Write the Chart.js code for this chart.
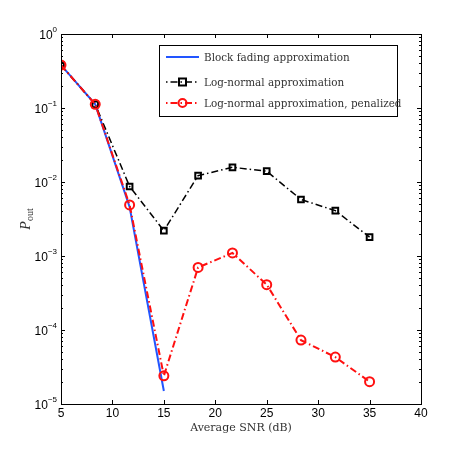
<!DOCTYPE html>
<html>
<head>
<meta charset="utf-8">
<script src="https://cdn.jsdelivr.net/npm/chart.js@4/dist/chart.umd.min.js"></script>
<style>
  html, body { margin: 0; padding: 0; background: #fff; }
  #wrap { width: 465px; height: 453px; }
</style>
</head>
<body>
<div id="wrap"><canvas id="c" width="465" height="453"></canvas></div>
<script>
// data
const snr = [5, 8.33, 11.67, 15, 18.33, 21.67, 25, 28.33, 31.67, 35];
const blockFading = [0.38, 0.112, 0.0046, 1.5e-5];
const logNormal = [0.38, 0.112, 0.0087, 0.0022, 0.0122, 0.0158, 0.014, 0.0058, 0.0041, 0.0018];
const logNormalPen = [0.38, 0.112, 0.0049, 2.4e-5, 7.0e-4, 1.1e-3, 4.1e-4, 7.3e-5, 4.3e-5, 2.0e-5];
const xTicks = [5, 10, 15, 20, 25, 30, 35, 40];
const yExps = [0, -1, -2, -3, -4, -5];
const legendLabels = ['Block fading approximation', 'Log-normal approximation', 'Log-normal approximation, penalized'];

const toPts = (ys) => ys.map((y, i) => ({ x: snr[i], y }));
const dashDot = [7, 3, 1.5, 3];

// frame, ticks, labels and legend like a matlab figure
const axesPlugin = {
  id: 'axesPlugin',
  afterDraw(chart) {
    const { ctx, chartArea: { top, bottom, left, right }, scales: { x, y } } = chart;
    ctx.save();
    ctx.strokeStyle = '#000';
    ctx.lineWidth = 1;
    ctx.setLineDash([]);
    ctx.strokeRect(left + 0.5, top + 0.5, right - left, bottom - top);

    // x ticks, inward on bottom and top
    ctx.beginPath();
    xTicks.forEach(v => {
      const px = Math.round(x.getPixelForValue(v)) + 0.5;
      ctx.moveTo(px, bottom); ctx.lineTo(px, bottom - 4);
      ctx.moveTo(px, top); ctx.lineTo(px, top + 4);
    });
    // y ticks, major and minor
    yExps.forEach(e => {
      const py = Math.round(y.getPixelForValue(Math.pow(10, e))) + 0.5;
      ctx.moveTo(left, py); ctx.lineTo(left + 4, py);
      ctx.moveTo(right, py); ctx.lineTo(right - 4, py);
      if (e < 0) {
        for (let m = 2; m <= 9; m++) {
          const pm = Math.round(y.getPixelForValue(m * Math.pow(10, e))) + 0.5;
          ctx.moveTo(left, pm); ctx.lineTo(left + 2, pm);
          ctx.moveTo(right, pm); ctx.lineTo(right - 2, pm);
        }
      }
    });
    ctx.stroke();

    // tick labels
    ctx.fillStyle = '#000';
    ctx.font = '12px "Liberation Sans", Arial, sans-serif';
    ctx.textAlign = 'center';
    ctx.textBaseline = 'top';
    xTicks.forEach(v => ctx.fillText(String(v), x.getPixelForValue(v), bottom + 4));

    yExps.forEach(e => {
      const py = y.getPixelForValue(Math.pow(10, e));
      const sup = e === 0 ? '0' : '\u2212' + Math.abs(e);
      ctx.font = '8px "Liberation Sans", Arial, sans-serif';
      const sw = ctx.measureText(sup).width;
      ctx.textAlign = 'left';
      ctx.textBaseline = 'alphabetic';
      ctx.fillText(sup, left - 4 - sw, py - 2);
      ctx.font = '12px "Liberation Sans", Arial, sans-serif';
      ctx.textAlign = 'right';
      ctx.fillText('10', left - 4 - sw, py + 5);
    });

    // axis titles
    ctx.font = '11px "DejaVu Serif", "Liberation Serif", serif';
    ctx.fillStyle = '#333';
    ctx.textAlign = 'center';
    ctx.textBaseline = 'alphabetic';
    ctx.fillText('Average SNR (dB)', (left + right) / 2, bottom + 27);

    ctx.save();
    ctx.translate(30, (top + bottom) / 2);
    ctx.rotate(-Math.PI / 2);
    ctx.font = 'italic 14px "Liberation Serif", serif';
    ctx.textAlign = 'left';
    const pw = ctx.measureText('P').width;
    ctx.font = '10px "Liberation Serif", serif';
    const ow = ctx.measureText('out').width;
    const sx = -(pw + ow) / 2;
    ctx.font = 'italic 14px "Liberation Serif", serif';
    ctx.fillText('P', sx, 0);
    ctx.font = '10px "Liberation Serif", serif';
    ctx.fillText('out', sx + pw, 3);
    ctx.restore();

    // legend
    const bx = 159.5, by = 45.5, bw = 238, bh = 71;
    ctx.fillStyle = '#fff';
    ctx.fillRect(bx, by, bw, bh);
    ctx.strokeStyle = '#000';
    ctx.lineWidth = 1;
    ctx.strokeRect(bx, by, bw, bh);
    const rows = [57, 82, 103];
    const styles = [
      { color: '#2255ff', width: 2, dash: [], marker: null },
      { color: '#000', width: 1.5, dash: dashDot, marker: 'rect' },
      { color: '#ff1010', width: 2, dash: dashDot, marker: 'circle' }
    ];
    rows.forEach((ry, i) => {
      const s = styles[i];
      ctx.strokeStyle = s.color;
      ctx.lineWidth = s.width;
      ctx.setLineDash(s.dash);
      ctx.lineDashOffset = s.dash.length ? 10 : 0;
      ctx.beginPath();
      ctx.moveTo(166, ry); ctx.lineTo(199, ry);
      ctx.stroke();
      ctx.setLineDash([]);
      ctx.lineDashOffset = 0;
      ctx.lineWidth = 2;
      if (s.marker === 'rect') {
        ctx.strokeRect(179, ry - 3.5, 7, 7);
      } else if (s.marker === 'circle') {
        ctx.beginPath();
        ctx.arc(182.5, ry, 4, 0, Math.PI * 2);
        ctx.stroke();
      }
      ctx.fillStyle = '#333';
      ctx.font = '10.4px "DejaVu Serif", "Liberation Serif", serif';
      ctx.textAlign = 'left';
      ctx.textBaseline = 'middle';
      ctx.fillText(legendLabels[i], 204, ry + 1);
    });
    ctx.restore();
  }
};

new Chart(document.getElementById('c'), {
  type: 'scatter',
  data: {
    datasets: [
      {
        label: legendLabels[2],
        data: toPts(logNormalPen),
        showLine: true,
        borderColor: '#ff1010',
        borderWidth: 2,
        borderDash: dashDot,
        pointStyle: 'circle',
        pointRadius: 4.5,
        pointBorderWidth: 2,
        pointBorderColor: '#ff1010',
        pointBackgroundColor: 'rgba(0,0,0,0)',
        order: 0
      },
      {
        label: legendLabels[1],
        data: toPts(logNormal),
        showLine: true,
        borderColor: '#000',
        borderWidth: 1.5,
        borderDash: dashDot,
        pointStyle: 'rect',
        pointRadius: 4,
        pointBorderWidth: 2,
        pointBorderColor: '#000',
        pointBackgroundColor: 'rgba(0,0,0,0)',
        order: 1
      },
      {
        label: legendLabels[0],
        data: toPts(blockFading),
        showLine: true,
        borderColor: '#2255ff',
        borderWidth: 2,
        pointRadius: 0,
        order: 2
      }
    ]
  },
  options: {
    responsive: false,
    animation: false,
    layout: { padding: { left: 61, right: 44, top: 34, bottom: 49 } },
    plugins: { legend: { display: false }, tooltip: { enabled: false } },
    scales: {
      x: { type: 'linear', min: 5, max: 40, display: false },
      y: { type: 'logarithmic', min: 1e-5, max: 1, display: false }
    }
  },
  plugins: [axesPlugin]
});
</script>
</body>
</html>
